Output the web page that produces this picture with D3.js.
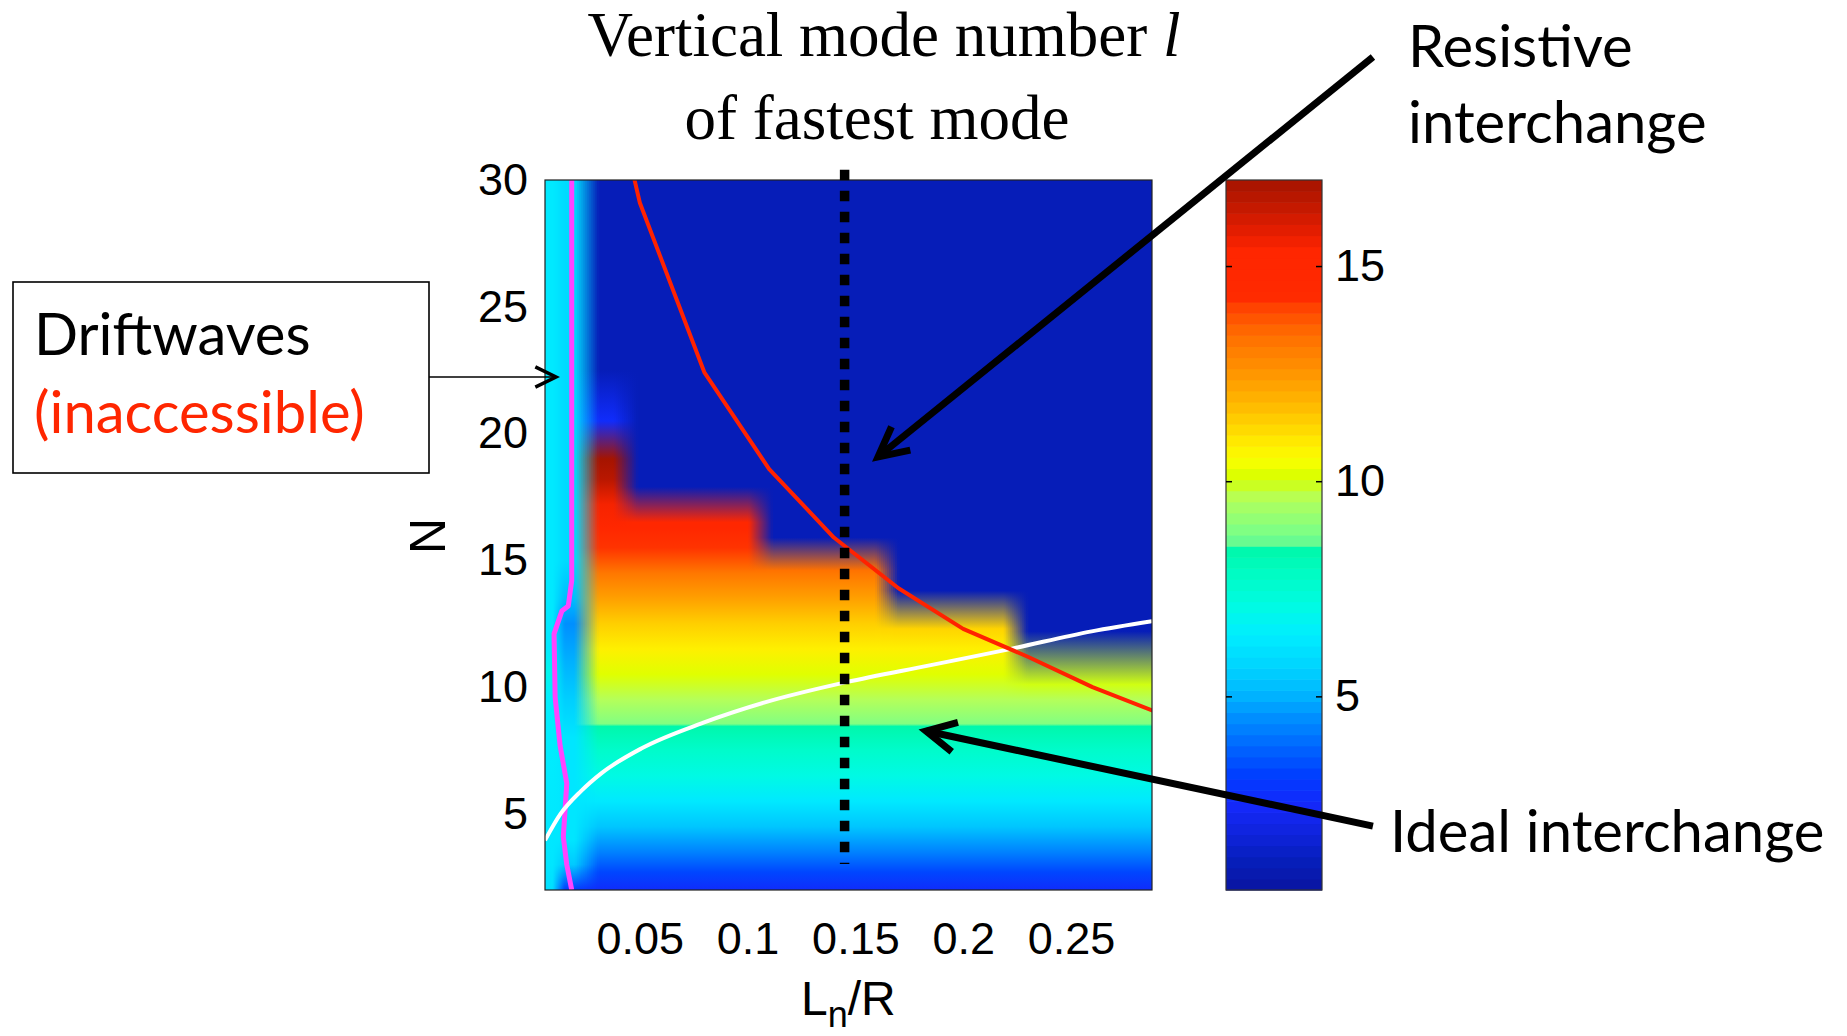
<!DOCTYPE html>
<html><head><meta charset="utf-8">
<script src="https://cdn.jsdelivr.net/npm/d3@7"></script>
<style>html,body{margin:0;padding:0;background:#fff;overflow:hidden}svg{display:block}</style>
</head><body>
<svg id="chart" width="1847" height="1036"></svg>
<script>
// ---------------- data ----------------
const lnrDomain = [0.006, 0.2876];
const nDomain = [2, 30];
const xTicks = [0.05, 0.1, 0.15, 0.2, 0.25];
const yTicks = [5, 10, 15, 20, 25, 30];
const cbDomain = [0.5, 17];
const cbTicks = [5, 10, 15];
const cbLevels = 64;

// colormap (mode number l -> colour)
const cmapL = [0.5, 1.16, 1.82, 2.48, 3.14, 3.8, 4.46, 5.12, 5.78, 6.44, 7.1, 7.76, 8.49, 8.51, 8.9, 9.6, 10.1, 10.5, 10.9, 11.7, 12.5, 13.4, 14.0, 14.3, 15.35, 15.7, 16.3, 17.0];
const cmapRGB = ["rgb(10,20,160)","rgb(6,30,186)","rgb(15,35,220)","rgb(20,40,250)","rgb(0,60,255)","rgb(0,100,255)","rgb(0,140,255)","rgb(0,185,255)","rgb(0,215,255)","rgb(0,238,255)","rgb(0,250,228)","rgb(0,252,200)","rgb(0,248,168)","rgb(95,250,150)","rgb(130,255,130)","rgb(180,255,90)","rgb(215,255,0)","rgb(250,255,0)","rgb(255,235,0)","rgb(255,190,0)","rgb(255,150,0)","rgb(255,110,0)","rgb(255,70,0)","rgb(255,42,0)","rgb(255,38,0)","rgb(235,30,0)","rgb(200,25,0)","rgb(165,20,0)"];

// Ln/R bands of the map and, for each band, the vertical profile [N, l]
const bandEdges = [0.006, 0.0125, 0.0255, 0.0436, 0.1061, 0.1648, 0.2245, 0.2876];
const lowerProfile = [[8.45,8.4],[7.5,7.7],[6.5,7.1],[5.5,6.3],[4.5,5.4],[3.5,4.3],[2.7,3.3],[2,2.6]];
const warmProfile = [[16.3,15.0],[15.5,14.2],[14.5,13.2],[13.5,12.3],[12.5,11.4],[11.5,10.8],[10.5,10.2],[9.5,9.6],[8.55,8.9]];
const bandStripOuter = [[30,6.3],[11.6,6.3],[10.6,6.9],[9.6,6.5],[3,6.2],[2,6.0]];
const bandStripInner = [[30,5.9],[15,5.9],[13.5,5.2],[12.5,4.5],[11,5.0],[9.5,5.6],[8,6.2],[4,6.2],[3,5.5],[2,3.0]];
const bandA = [[30,1.1],[22.5,1.1],[20.5,2.6],[19,17],[18.2,16.6],[17.2,15.5]];
const bandB = [[30,1.1],[17.9,1.1],[16.5,15.1]];
const bandC = [[30,1.1],[15.9,1.1],[14.6,13.3]];
const bandD = [[30,1.1],[13.8,1.1],[12.3,11.3]];
const bandE = [[30,1.1],[12.2,1.1],[10.1,10.0]];

// overlay curves
const magentaLnR = [0.0184, 0.0184, 0.0168, 0.0138, 0.0102, 0.0107, 0.0130, 0.0161, 0.0145, 0.0161, 0.0184];
const magentaN   = [30, 14.2, 13.2, 13.0, 12.1, 9.6, 7.7, 6.2, 4.1, 3.0, 2.0];
const redLnR = [0.047, 0.05, 0.08, 0.11, 0.14, 0.17, 0.20, 0.23, 0.26, 0.29];
const redN   = [30.2, 29.1, 22.4, 18.6, 15.9, 13.9, 12.3, 11.2, 10.0, 9.0];
const whiteLnR = [0.006, 0.0132, 0.0227, 0.0321, 0.0511, 0.0795, 0.108, 0.1459, 0.1838, 0.2217, 0.2596, 0.2876];
const whiteN   = [3.96, 5.0, 5.9, 6.6, 7.6, 8.6, 9.4, 10.2, 10.85, 11.5, 12.2, 12.6];
const dottedLnR = 0.145;
const dottedN = [30.4, 3.03];

// annotations (tail, tip in data coordinates)
const resistiveArrow = [[0.3901, 34.85], [0.1605, 19.08]];
const idealArrow = [[0.3901, 4.52], [0.1828, 8.27]];
const driftArrow = [[-0.0478, 22.23], [0.0111, 22.23]];

// ---------------- drawing ----------------
const svg = d3.select("#chart");
const plot = {left: 545, top: 180, width: 607, height: 710};
const cb = {left: 1226, top: 180, width: 96, height: 710};
const blendHalf = [6, 12, 12, 12, 12, 12]; // px half-width of shading between neighbouring bands

const x = d3.scaleLinear().domain(lnrDomain).range([plot.left, plot.left + plot.width]);
const y = d3.scaleLinear().domain(nDomain).range([plot.top + plot.height, plot.top]);
const color = d3.scaleLinear().domain(cmapL).range(cmapRGB).interpolate(d3.interpolateRgb).clamp(true);
const cbY = d3.scaleLinear().domain(cbDomain).range([cb.top + cb.height, cb.top]);

const defs = svg.append("defs");
defs.append("clipPath").attr("id", "plotClip").append("rect")
  .attr("x", plot.left).attr("y", plot.top).attr("width", plot.width).attr("height", plot.height);

const bands = [bandStripOuter, bandStripInner,
  [...bandA, ...warmProfile, ...lowerProfile],
  [...bandB, ...warmProfile, ...lowerProfile],
  [...bandC, ...warmProfile.filter(d => d[0] < 14.6), ...lowerProfile],
  [...bandD, ...warmProfile.filter(d => d[0] < 12.3), ...lowerProfile],
  [...bandE, ...warmProfile.filter(d => d[0] < 10.1), ...lowerProfile]].map(p => p.slice().sort((a, b) => b[0] - a[0]));

const y0 = y(nDomain[1]), y1 = y(nDomain[0]);
const off = n => (y(n) - y0) / (y1 - y0);

// colour of a band profile at level n (RGB interpolation, as the shading does)
function profColor(prof, n) {
  for (let k = 0; k < prof.length - 1; k++) {
    const [na, la] = prof[k], [nb, lb] = prof[k + 1];
    if (n <= na && n >= nb) {
      const t = na === nb ? 0 : (na - n) / (na - nb);
      return d3.interpolateRgb(color(la), color(lb))(t);
    }
  }
  return color(n > prof[0][0] ? prof[0][1] : prof[prof.length - 1][1]);
}
function makeGradient(id, stops) {
  const g = defs.append("linearGradient").attr("id", id).attr("gradientUnits", "userSpaceOnUse")
    .attr("x1", 0).attr("x2", 0).attr("y1", y0).attr("y2", y1);
  stops.forEach(s => g.append("stop").attr("offset", off(s[0])).attr("stop-color", s[1]));
}
bands.forEach((prof, i) => makeGradient("band" + i, prof.map(([n, l]) => [n, color(l)])));

// cross-fade strips between neighbouring bands
const fadeSteps = 12;
const fades = [];
for (let i = 1; i < bands.length; i++) {
  const a = bands[i - 1], b = bands[i];
  const ns = Array.from(new Set([...a.map(d => d[0]), ...b.map(d => d[0])])).sort((p, q) => q - p);
  const xe = x(bandEdges[i]), hw = blendHalf[i - 1];
  for (let k = 0; k < fadeSteps; k++) {
    const t = (k + 0.5) / fadeSteps, id = `fade${i}_${k}`;
    makeGradient(id, ns.map(n => [n, d3.interpolateRgb(profColor(a, n), profColor(b, n))(t)]));
    fades.push({id, x: xe - hw + k * 2 * hw / fadeSteps, w: 2 * hw / fadeSteps});
  }
}

const heat = svg.append("g").attr("clip-path", "url(#plotClip)");
heat.selectAll("rect.band").data(bands).join("rect").attr("class", "band")
  .attr("x", (d, i) => x(bandEdges[i]) - 0.5)
  .attr("width", (d, i) => x(bandEdges[i + 1]) - x(bandEdges[i]) + 1)
  .attr("y", y0).attr("height", y1 - y0)
  .attr("fill", (d, i) => "url(#band" + i + ")");
heat.selectAll("rect.fade").data(fades).join("rect").attr("class", "fade")
  .attr("x", d => d.x - 0.3).attr("width", d => d.w + 0.6)
  .attr("y", y0).attr("height", y1 - y0)
  .attr("fill", d => `url(#${d.id})`);

const lines = svg.append("g").attr("clip-path", "url(#plotClip)");
const lineGen = d3.line().x(d => x(d[0])).y(d => y(d[1]));
lines.append("path").datum(magentaLnR.map((v, i) => [v, magentaN[i]]))
  .attr("d", lineGen).attr("fill", "none").attr("stroke", "#ff44ff").attr("stroke-width", 5).attr("stroke-linejoin", "round");
lines.append("path").datum(whiteLnR.map((v, i) => [v, whiteN[i]]))
  .attr("d", d3.line().x(d => x(d[0])).y(d => y(d[1])).curve(d3.curveMonotoneX)).attr("fill", "none").attr("stroke", "#ffffff").attr("stroke-width", 4);
lines.append("path").datum(redLnR.map((v, i) => [v, redN[i]]))
  .attr("d", lineGen).attr("fill", "none").attr("stroke", "#ff2200").attr("stroke-width", 4).attr("stroke-linejoin", "round");

// plot frame
svg.append("rect").attr("x", plot.left).attr("y", plot.top).attr("width", plot.width).attr("height", plot.height)
  .attr("fill", "none").attr("stroke", "#222").attr("stroke-width", 1.2);

// dotted vertical line
svg.append("path").datum(dottedN.map(n => [dottedLnR, n]))
  .attr("d", lineGen)
  .attr("stroke", "#000").attr("stroke-width", 9.5).attr("stroke-dasharray", "10.5 10.5").attr("fill", "none");

// axes
const tickFont = "'Liberation Sans', Arial, Helvetica, sans-serif";
const xAxis = svg.append("g").attr("transform", `translate(0,${plot.top + plot.height})`)
  .call(d3.axisBottom(x).tickValues(xTicks).tickSize(0).tickPadding(32).tickFormat(d => String(d)));
const yAxis = svg.append("g").attr("transform", `translate(${plot.left},0)`)
  .call(d3.axisLeft(y).tickValues(yTicks).tickSize(0).tickPadding(17).tickFormat(d => String(d)));
[xAxis, yAxis].forEach(a => {
  a.select(".domain").remove();
  a.selectAll("text").attr("font-family", tickFont).attr("font-size", 45).attr("fill", "#000");
});

// axis labels
const xl = svg.append("text").attr("x", 801).attr("y", 1015)
  .attr("font-family", tickFont).attr("font-size", 48).attr("fill", "#000");
xl.append("tspan").text("L");
xl.append("tspan").attr("font-size", 36).attr("dy", 12).text("n");
xl.append("tspan").attr("dy", -12).text("/R");
svg.append("text").attr("transform", "translate(445,536) rotate(-90)")
  .attr("text-anchor", "middle").attr("font-family", tickFont).attr("font-size", 50).attr("fill", "#000").text("N");

// colour bar
const cbStep = (cbDomain[1] - cbDomain[0]) / cbLevels;
svg.append("g").selectAll("rect").data(d3.range(cbLevels)).join("rect")
  .attr("x", cb.left).attr("width", cb.width)
  .attr("y", k => cbY(cbDomain[0] + (k + 1) * cbStep))
  .attr("height", k => cbY(cbDomain[0] + k * cbStep) - cbY(cbDomain[0] + (k + 1) * cbStep) + 0.6)
  .attr("fill", k => color(cbDomain[0] + (k + 0.5) * cbStep));
svg.append("rect").attr("x", cb.left).attr("y", cb.top).attr("width", cb.width).attr("height", cb.height)
  .attr("fill", "none").attr("stroke", "#333").attr("stroke-width", 1.2);
const cbAxisR = svg.append("g").attr("transform", `translate(${cb.left + cb.width},0)`)
  .call(d3.axisRight(cbY).tickValues(cbTicks).tickSizeInner(-6).tickSizeOuter(0).tickPadding(13));
const cbAxisL = svg.append("g").attr("transform", `translate(${cb.left},0)`)
  .call(d3.axisLeft(cbY).tickValues(cbTicks).tickSizeInner(-6).tickSizeOuter(0).tickFormat(""));
[cbAxisR, cbAxisL].forEach(a => {
  a.select(".domain").remove();
  a.selectAll("line").attr("stroke", "#000").attr("stroke-width", 1.5);
  a.selectAll("text").attr("font-family", tickFont).attr("font-size", 45).attr("fill", "#000");
});

// title
const serif = "'Liberation Serif', 'Times New Roman', serif";
const t1 = svg.append("text").attr("x", 884).attr("y", 56).attr("text-anchor", "middle")
  .attr("font-family", serif).attr("font-size", 63).attr("fill", "#000");
t1.append("tspan").text("Vertical mode number ");
t1.append("tspan").attr("font-style", "italic").text("l");
svg.append("text").attr("x", 877).attr("y", 139).attr("text-anchor", "middle")
  .attr("font-family", serif).attr("font-size", 63).attr("fill", "#000").text("of fastest mode");

// annotations
const annFont = "Lato, 'Open Sans', sans-serif";
function arrow(pair, width, headLen, headW, headAngle) {
  const tail = [x(pair[0][0]), y(pair[0][1])], tip = [x(pair[1][0]), y(pair[1][1])];
  svg.append("line").attr("x1", tail[0]).attr("y1", tail[1]).attr("x2", tip[0]).attr("y2", tip[1])
    .attr("stroke", "#000").attr("stroke-width", width);
  const dx = tail[0] - tip[0], dy = tail[1] - tip[1], L = Math.hypot(dx, dy);
  const ux = dx / L, uy = dy / L, a = headAngle * Math.PI / 180;
  const arm = s => [tip[0] + headLen * (ux * Math.cos(s * a) - uy * Math.sin(s * a)),
                    tip[1] + headLen * (ux * Math.sin(s * a) + uy * Math.cos(s * a))];
  const p1 = arm(1), p2 = arm(-1);
  svg.append("path").attr("d", `M${p1[0]},${p1[1]}L${tip[0]},${tip[1]}L${p2[0]},${p2[1]}`)
    .attr("fill", "none").attr("stroke", "#000").attr("stroke-width", headW).attr("stroke-linejoin", "miter");
}
arrow(resistiveArrow, 7, 33, 7, 27);
arrow(idealArrow, 7, 33, 7, 27);
svg.append("rect").attr("x", 13).attr("y", 282).attr("width", 416).attr("height", 191)
  .attr("fill", "#fff").attr("stroke", "#000").attr("stroke-width", 1.6);
arrow(driftArrow, 1.6, 23, 3.5, 26);

svg.append("text").attr("x", 34).attr("y", 355).attr("font-family", annFont).attr("font-size", 58).attr("fill", "#000").text("Driftwaves");
svg.append("text").attr("x", 34).attr("y", 433).attr("font-family", annFont).attr("font-size", 58).attr("fill", "#ff2600").text("(inaccessible)");
svg.append("text").attr("x", 1408).attr("y", 67).attr("font-family", annFont).attr("font-size", 58).attr("fill", "#000").text("Resistive");
svg.append("text").attr("x", 1408).attr("y", 143).attr("font-family", annFont).attr("font-size", 58).attr("fill", "#000").text("interchange");
svg.append("text").attr("x", 1390).attr("y", 852).attr("font-family", annFont).attr("font-size", 58).attr("fill", "#000").text("Ideal interchange");
</script>
</body></html>
